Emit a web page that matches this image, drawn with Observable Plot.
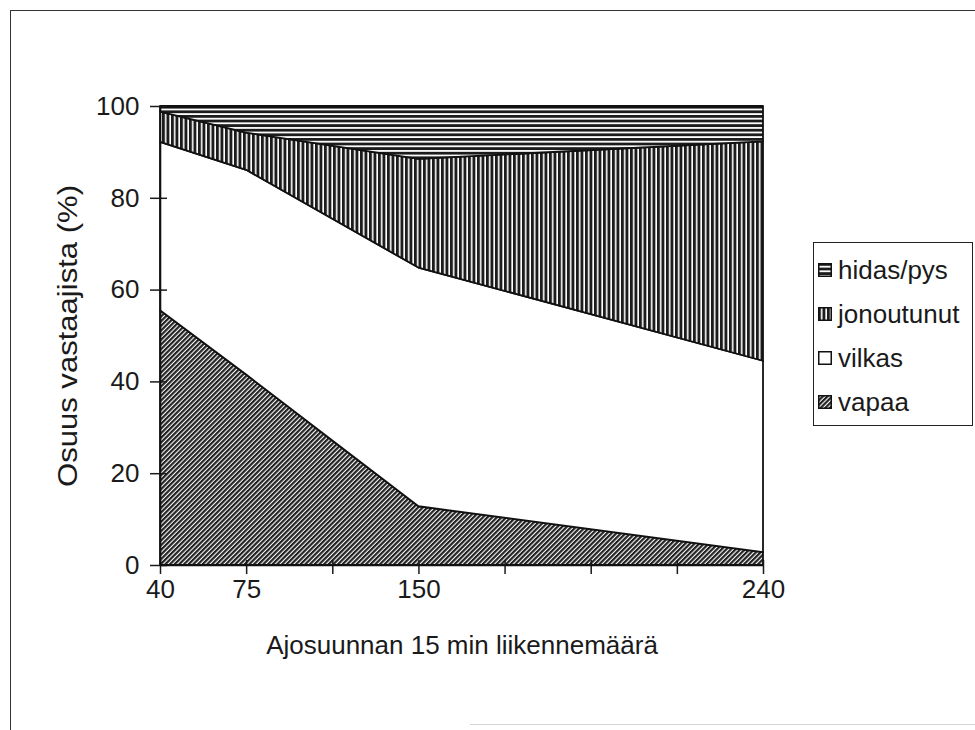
<!DOCTYPE html>
<html>
<head>
<meta charset="utf-8">
<script src="https://cdn.jsdelivr.net/npm/d3@7"></script>
<script src="https://cdn.jsdelivr.net/npm/@observablehq/plot@0.6"></script>
<style>
  body { margin: 0; background: #fff; }
  #chart { position: relative; width: 975px; height: 730px; overflow: hidden;
           font-family: "Liberation Sans", Arial, sans-serif; color: #1a1a1a; }
  #frame { position: absolute; left: 10px; top: 10px; width: 980px; height: 730px;
           border-left: 1.5px solid #333; border-top: 1.5px solid #333; }
  #bottomline { position: absolute; left: 470px; top: 724px; width: 505px; height: 0;
                border-top: 1px solid #d4d4d4; }
  #chart svg.plot { position: absolute; left: 0; top: 0; }
  #legend { position: absolute; left: 813px; top: 242px; width: 160px; height: 184px;
            border: 1.5px solid #222; background: #fff; box-sizing: border-box; }
  .item { position: absolute; left: 4px; display: flex; align-items: center;
          font-size: 26px; line-height: 26px; white-space: nowrap; }
  .item svg { margin-right: 6px; }
</style>
</head>
<body>
<div id="chart">
  <div id="frame"></div>
  <div id="bottomline"></div>
</div>
<script>
// Category slots along the x axis; only some of them carry a label
const xSlots = ["40", "75", "", "150", "", "", "", "240"];
// Traffic volumes (vehicles / 15 min, one direction) with survey results
const volumes = ["40", "75", "150", "240"];
// Stacking order, bottom to top
const seriesNames = ["vapaa", "vilkas", "jonoutunut", "hidas/pys"];
// Share of respondents (%) per traffic state at each volume
const vapaa = [55.5, 41.5, 12.8, 2.8];
const vilkas = [36.7, 44.6, 52.0, 41.7];
const jonoutunut = [6.6, 8.1, 23.7, 47.8];
const hidasPys = [1.2, 5.8, 11.5, 7.7];
const yTicks = [0, 20, 40, 60, 80, 100];
const legendOrder = ["hidas/pys", "jonoutunut", "vilkas", "vapaa"];

const shares = {vapaa, vilkas, jonoutunut, "hidas/pys": hidasPys};
const rows = seriesNames.flatMap(s =>
  volumes.map((v, j) => ({slot: xSlots.indexOf(v), series: s, value: shares[s][j]}))
);

// Hatch fills used by the areas and the legend swatches
const patternId = {vapaa: "pat-vapaa", vilkas: "pat-vilkas", jonoutunut: "pat-jono", "hidas/pys": "pat-hidas"};
const defsSvg = d3.select("body").append("svg").attr("width", 0).attr("height", 0)
  .style("position", "absolute");
const defs = defsSvg.append("defs");
{
  const p = defs.append("pattern").attr("id", patternId.vapaa).attr("patternUnits", "userSpaceOnUse")
    .attr("width", 3.3).attr("height", 10).attr("patternTransform", "rotate(45)");
  p.append("rect").attr("width", 3.3).attr("height", 10).attr("fill", "#fff");
  p.append("rect").attr("width", 2.2).attr("height", 10).attr("fill", "#222");
}
{
  const p = defs.append("pattern").attr("id", patternId.vilkas).attr("patternUnits", "userSpaceOnUse")
    .attr("width", 4).attr("height", 4);
  p.append("rect").attr("width", 4).attr("height", 4).attr("fill", "#fff");
}
{
  const p = defs.append("pattern").attr("id", patternId.jonoutunut).attr("patternUnits", "userSpaceOnUse")
    .attr("width", 4.5).attr("height", 10);
  p.append("rect").attr("width", 4.5).attr("height", 10).attr("fill", "#fff");
  p.append("rect").attr("width", 2.9).attr("height", 10).attr("fill", "#1c1c1c");
}
{
  const p = defs.append("pattern").attr("id", patternId["hidas/pys"]).attr("patternUnits", "userSpaceOnUse")
    .attr("width", 10).attr("height", 4.6);
  p.append("rect").attr("width", 10).attr("height", 4.6).attr("fill", "#fff");
  p.append("rect").attr("width", 10).attr("height", 2.8).attr("fill", "#1c1c1c");
}

const slotTicks = d3.range(xSlots.length);

const chart = Plot.plot({
  width: 975,
  height: 730,
  marginLeft: 160,
  marginRight: 212,
  marginTop: 106,
  marginBottom: 165,
  style: {fontFamily: "Liberation Sans, Arial, sans-serif", fontSize: "26px", color: "#1a1a1a", background: "transparent"},
  x: {type: "linear", domain: [0, xSlots.length - 1]},
  y: {domain: [0, 100]},
  color: {type: "ordinal", domain: seriesNames, range: seriesNames.map(s => `url(#${patternId[s]})`)},
  marks: [
    Plot.areaY(rows, {x: "slot", y: "value", z: "series", fill: "series", order: seriesNames,
                      stroke: "#111", strokeWidth: 1.8, curve: "linear"}),
    Plot.ruleY([100], {stroke: "#111", strokeWidth: 2.8}),
    Plot.axisY({ticks: yTicks, tickSize: 10, tickPadding: 11, strokeWidth: 1.5,
                label: "Osuus vastaajista (%)", labelAnchor: "center", labelArrow: "none", labelOffset: 103}),
    Plot.axisY({ticks: yTicks, tickSize: -7, strokeWidth: 1.5, tickFormat: () => "", label: null}),
    Plot.axisX({ticks: slotTicks, tickSize: 9, tickPadding: 5, strokeWidth: 1.5, tickFormat: i => xSlots[i],
                label: "Ajosuunnan 15 min liikennemäärä", labelAnchor: "center", labelArrow: "none", labelOffset: 88}),
    Plot.axisX({ticks: slotTicks, tickSize: -5, strokeWidth: 1.5, tickFormat: () => "", label: null}),
    Plot.ruleX([0], {stroke: "#111", strokeWidth: 1.6}),
    Plot.ruleY([0], {stroke: "#111", strokeWidth: 1.6})
  ]
});
document.getElementById("chart").appendChild(chart);

// The vertical axis title is set in a taller type than the tick labels
d3.select(chart).selectAll("text")
  .filter(function () { return this.textContent === "Osuus vastaajista (%)"; })
  .attr("font-size", 27)
  .attr("textLength", 302)
  .attr("lengthAdjust", "spacingAndGlyphs");

// Legend box
const legend = d3.select("#chart").append("div").attr("id", "legend");
legendOrder.forEach((s, i) => {
  const item = legend.append("div").attr("class", "item").style("top", `${14 + i * 44}px`);
  const sw = item.append("svg").attr("width", 14).attr("height", 14);
  sw.append("rect").attr("x", 0.75).attr("y", 0.75).attr("width", 12.5).attr("height", 12.5)
    .attr("fill", `url(#${patternId[s]})`).attr("stroke", "#111").attr("stroke-width", 1.5);
  item.append("span").text(s);
});
</script>
</body>
</html>
